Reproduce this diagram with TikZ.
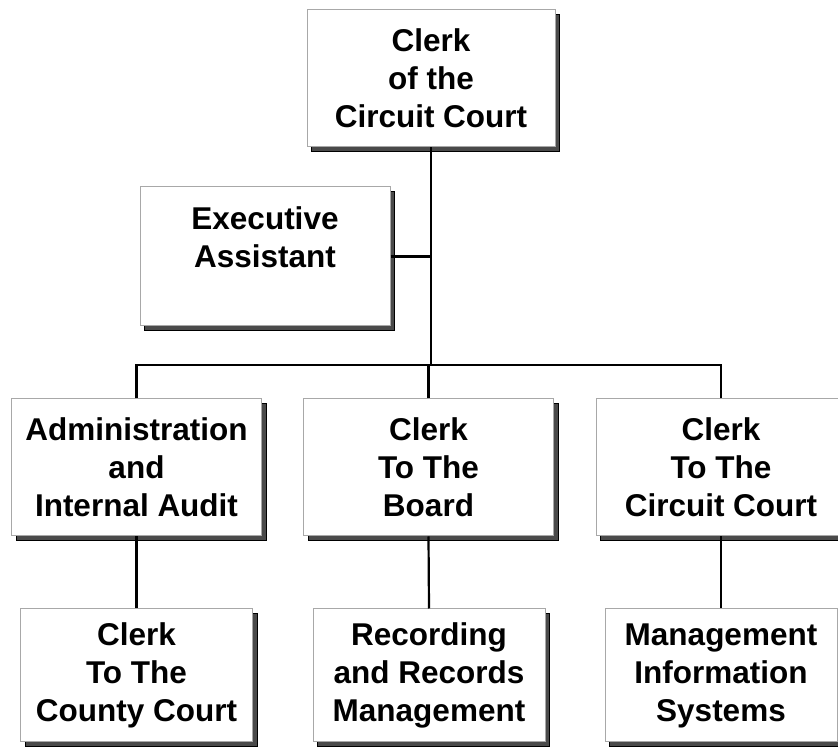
\documentclass[tikz,border=0pt]{standalone}
\usepackage{fontspec}
\setmainfont{Liberation Sans}
\usepackage{xcolor}
\usepackage{tikz}
\usetikzlibrary{positioning,shadows}
\definecolor{BoxEdge}{HTML}{A8A8A8}
\definecolor{ShadowGrey}{HTML}{4A4A4A}

\begin{document}
\begin{tikzpicture}[x=1pt, y=1pt, every node/.style={font=\fontsize{31.5}{38}\selectfont\bfseries}, box/.style={draw=BoxEdge, line width=1pt, fill=white, minimum width=250pt, minimum height=137pt, inner sep=0pt, align=center, drop shadow={shadow xshift=4.5pt, shadow yshift=-4.5pt, fill=ShadowGrey, draw=black, opacity=1}}, lowbox/.style={box, minimum width=232pt, minimum height=133pt}, conn/.style={line width=2.2pt, black}]
\useasboundingbox (0,0) rectangle (838,752);
\clip (0,0) rectangle (838,752);
\node[box, minimum width=248pt] (clerk) at (431,673.5) {Clerk\\of the\\Circuit Court};
\node[box, minimum height=139pt] (exec) at (265,495.5) {Executive\\Assistant\\~};
\node[box] (admin) at (136.5,284.5) {Administration\\and\\Internal Audit};
\node[box] (board) at (428.5,284.5) {Clerk\\To The\\Board};
\node[box] (circ) at (721,284.5) {Clerk\\To The\\Circuit Court};
\node[lowbox] (county) at (136.5,76.5) {Clerk\\To The\\County Court};
\node[lowbox] (recs) at (429,76.5) {Recording\\and Records\\Management};
\node[lowbox] (mis) at (721,76.5) {Management\\Information\\Systems};
\coordinate (hub) at (clerk.south |- 0,387);
\draw[conn] (clerk.south) -- (hub);
\draw[conn] (exec.east) -- (exec.east -| hub);
\draw[conn] (admin.north) |- (hub);
\draw[conn] (circ.north) |- (hub);
\draw[conn] (board.north) -- (board.north |- hub);
\draw[conn] (admin.south) -- (county.north);
\draw[conn] (board.south) -- (recs.north);
\draw[conn] (circ.south) -- (mis.north);
\end{tikzpicture}
\end{document}
